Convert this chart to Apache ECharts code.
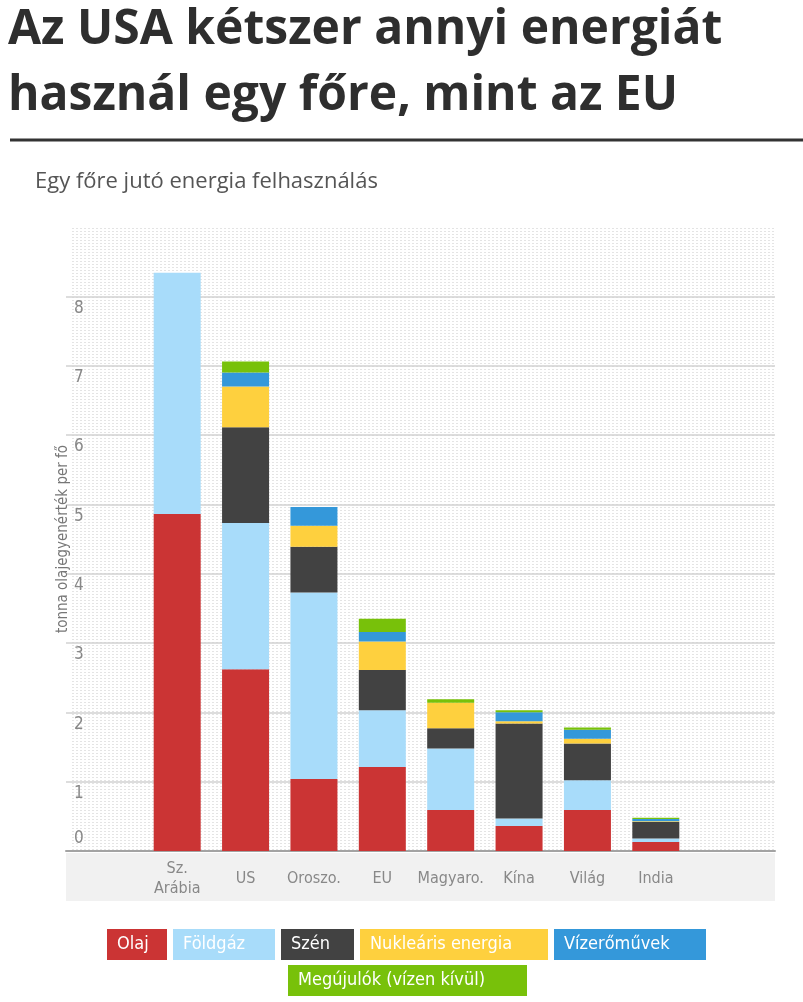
<!DOCTYPE html>
<html>
<head>
<meta charset="utf-8">
<script src="https://cdn.jsdelivr.net/npm/echarts@6/dist/echarts.min.js"></script>
<style>
  html, body { margin: 0; padding: 0; background: #fff; }
  #chart { width: 803px; height: 1002px; }
</style>
</head>
<body>
<div id="chart"></div>
<script>
// tonna olajegyenérték per fő
var categories = ['Sz.\nArábia', 'US', 'Oroszo.', 'EU', 'Magyaro.', 'Kína', 'Világ', 'India']
var olaj = [4.86, 2.62, 1.04, 1.21, 0.59, 0.36, 0.59, 0.13]
var foldgaz = [3.48, 2.11, 2.69, 0.82, 0.89, 0.11, 0.43, 0.05]
var szen = [0, 1.38, 0.66, 0.58, 0.29, 1.37, 0.53, 0.24]
var nuklearis = [0, 0.59, 0.30, 0.41, 0.37, 0.03, 0.07, 0.01]
var vizeromuvek = [0, 0.20, 0.27, 0.14, 0, 0.13, 0.13, 0.03]
var megujulok = [0, 0.16, 0, 0.19, 0.05, 0.03, 0.03, 0.02]

var condensed = "'DejaVu Sans Condensed', 'Liberation Sans Narrow', sans-serif"

// dotted background pattern
var dots = document.createElement('canvas')
dots.width = 4
dots.height = 3
var dctx = dots.getContext('2d')
dctx.fillStyle = '#e4e4e4'
dctx.fillRect(0, 0, 2, 1)

var seriesDefs = [
  { name: 'Olaj', data: olaj, color: '#cb3434', box: 60 },
  { name: 'Földgáz', data: foldgaz, color: '#a8dcfa', box: 102 },
  { name: 'Szén', data: szen, color: '#424242', box: 73 },
  { name: 'Nukleáris energia', data: nuklearis, color: '#fed03e', box: 188 },
  { name: 'Vízerőművek', data: vizeromuvek, color: '#3498da', box: 152 },
  { name: 'Megújulók (vízen kívül)', data: megujulok, color: '#78c10a', box: 239 }
]

function legendItem (d) {
  return {
    name: d.name,
    textStyle: {
      color: '#fff',
      backgroundColor: d.color,
      width: d.box - 20,
      padding: [6, 10, 6, 10],
      lineHeight: 19,
      fontSize: 18,
      fontFamily: condensed
    }
  }
}

var chart = echarts.init(document.getElementById('chart'))
chart.setOption({
  animation: false,
  title: [
    {
      text: 'Az USA kétszer annyi energiát\nhasznál egy főre, mint az EU',
      left: 8,
      top: -3,
      padding: 0,
      textStyle: { fontSize: 48, fontWeight: 'bold', color: '#2e2e2e', lineHeight: 66, fontFamily: 'Open Sans' }
    },
    {
      text: 'Egy főre jutó energia felhasználás',
      left: 35,
      top: 171,
      padding: 0,
      textStyle: { fontSize: 22, fontWeight: 'normal', color: '#555', fontFamily: 'Open Sans' }
    }
  ],
  graphic: [
    { type: 'line', shape: { x1: 10, y1: 140, x2: 803, y2: 140 }, style: { stroke: '#333', lineWidth: 3 } },
    { type: 'rect', z: -10, shape: { x: 70, y: 226, width: 705, height: 625 }, style: { fill: { image: dots, repeat: 'repeat' } } },
    { type: 'rect', z: -10, shape: { x: 66, y: 853, width: 709, height: 48 }, style: { fill: '#f1f1f1' } }
  ],
  legend: [
    {
      data: seriesDefs.slice(0, 5).map(legendItem),
      left: 102,
      top: 929,
      padding: 0,
      icon: 'none',
      itemWidth: 0,
      itemHeight: 0,
      itemGap: 1,
      selectedMode: false
    },
    {
      data: seriesDefs.slice(5).map(legendItem),
      left: 283,
      top: 965,
      padding: 0,
      icon: 'none',
      itemWidth: 0,
      itemHeight: 0,
      selectedMode: false
    }
  ],
  grid: [
    { left: 66, right: 28, top: 227, bottom: 151 },
    { left: 143, right: 113, top: 227, bottom: 151 }
  ],
  xAxis: [
    {
      gridIndex: 0,
      type: 'value',
      min: 0,
      max: 1,
      axisLine: { show: true, lineStyle: { color: '#a3a3a3', width: 2 } },
      axisTick: { show: false },
      axisLabel: { show: false },
      splitLine: { show: false }
    },
    {
      gridIndex: 1,
      type: 'category',
      data: categories,
      axisLine: { show: false },
      axisTick: { show: false },
      axisLabel: {
        interval: 0,
        color: '#888',
        fontSize: 16,
        lineHeight: 20,
        margin: 28,
        verticalAlign: 'middle',
        fontFamily: condensed
      }
    }
  ],
  yAxis: [
    {
      gridIndex: 0,
      type: 'value',
      min: 0,
      max: 9,
      interval: 1,
      name: 'tonna olajegyenérték per fő',
      nameLocation: 'middle',
      nameGap: 10,
      nameMoveOverlap: false,
      nameTextStyle: { color: '#777', fontSize: 15, fontFamily: condensed, verticalAlign: 'top' },
      axisLine: { show: false },
      axisTick: { show: false },
      splitLine: { show: true, showMaxLine: false, lineStyle: { color: '#d2d2d2', width: 1.5 } },
      axisLabel: {
        inside: true,
        margin: 8,
        showMaxLabel: false,
        verticalAlign: 'top',
        verticalAlignMinLabel: 'bottom',
        lineHeight: 24,
        color: '#888',
        fontSize: 17,
        fontFamily: condensed
      }
    },
    {
      gridIndex: 1,
      type: 'value',
      min: 0,
      max: 9,
      show: false
    }
  ],
  series: seriesDefs.map(function (d) {
    return {
      name: d.name,
      type: 'bar',
      stack: 'total',
      xAxisIndex: 1,
      yAxisIndex: 1,
      barWidth: 47,
      data: d.data,
      itemStyle: { color: d.color }
    }
  })
})
</script>
</body>
</html>
